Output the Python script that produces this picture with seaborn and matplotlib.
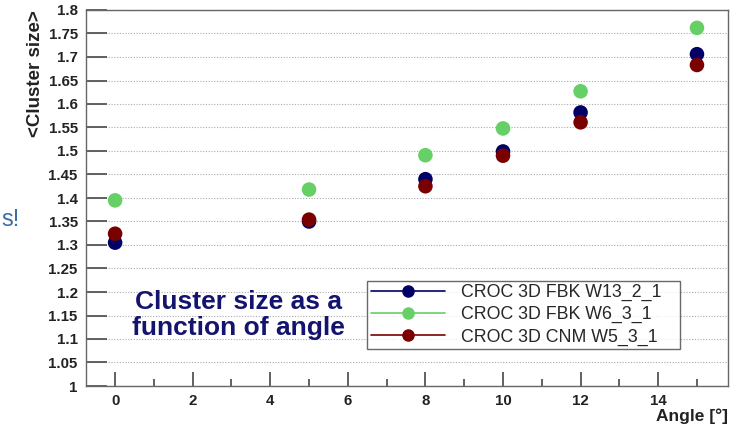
import numpy as np
import pandas as pd
import matplotlib
matplotlib.use("Agg")
import matplotlib.pyplot as plt
from matplotlib.lines import Line2D
from matplotlib.ticker import MultipleLocator, FuncFormatter
import seaborn as sns

angles = [0, 5, 8, 10, 12, 15]
fbk_w13 = [1.305, 1.350, 1.440, 1.499, 1.582, 1.706]
fbk_w6 = [1.395, 1.418, 1.491, 1.548, 1.627, 1.762]
cnm_w5 = [1.324, 1.354, 1.425, 1.490, 1.561, 1.683]
series_names = ["CROC 3D FBK W13_2_1", "CROC 3D FBK W6_3_1", "CROC 3D CNM W5_3_1"]
colors = ["#000066", "#66d066", "#7a0000"]

df = pd.DataFrame({
    "angle": angles * 3,
    "size": fbk_w13 + fbk_w6 + cnm_w5,
    "series": sum([[n] * len(angles) for n in series_names], []),
})

sns.set_style("white", {"xtick.bottom": True, "ytick.left": True})
plt.rcParams['font.family'] = ['Liberation Sans', 'DejaVu Sans']

fig = plt.figure(figsize=(7.43, 4.25), dpi=100)
ax = fig.add_axes([86/743, 1 - 386/425, (728-86)/743, (386-10)/425])

sns.scatterplot(data=df, x="angle", y="size", hue="series", palette=colors,
                hue_order=series_names, s=110, edgecolor="none", ax=ax,
                legend=False, zorder=3)

ax.set_xlim(-0.75, 15.8)
ax.set_ylim(1.0, 1.8)
ax.yaxis.set_major_locator(MultipleLocator(0.05))
ax.xaxis.set_major_locator(MultipleLocator(2))
ax.xaxis.set_minor_locator(MultipleLocator(1))
ax.yaxis.set_major_formatter(FuncFormatter(lambda v, p: "%g" % round(v, 2)))
ax.grid(axis="y", linestyle=(0, (1, 1.5)), color="#aaaaaa", linewidth=0.8)

for sp in ax.spines.values():
    sp.set_color("#666666")
    sp.set_linewidth(1.0)

ax.tick_params(axis="both", which="both", direction="in", left=True, bottom=True,
               right=False, top=False, color="#555555", width=1.3)
ax.tick_params(axis="y", which="major", length=15, labelsize=10.8, pad=6,
               labelcolor="#222222")
ax.tick_params(axis="x", which="major", length=10, labelsize=10.8, pad=6,
               labelcolor="#222222")
ax.tick_params(axis="x", which="minor", length=5)
for lab in ax.get_xticklabels() + ax.get_yticklabels():
    lab.set_fontweight("bold")

ax.set_xlabel("")
ax.set_ylabel("")
fig.text(35/743, 1 - 10/425, "<Cluster size>", rotation=90, ha="center", va="top",
         fontsize=13.5, fontweight="bold", color="#222222")
fig.text(728/743, 1 - 416/425, "Angle [°]", ha="right", va="center",
         fontsize=12.5, fontweight="bold", color="#222222")

ax.text(0.238, 0.189, "Cluster size as a\nfunction of angle", transform=ax.transAxes,
        ha="center", va="center", fontsize=19, fontweight="bold", color="#14146e",
        linespacing=1.15)

fig.text(1/743, 1 - 220/425, "s!", ha="left", va="center", fontsize=17,
         color="#3a6ea5")

handles = [Line2D([0], [0], color=c, marker="o", markersize=8, lw=1.2)
           for c in colors]
leg = ax.legend(handles, series_names, loc="lower left",
                bbox_to_anchor=(0.438, 0.098, 0.4875, 0.179), mode="expand",
                fontsize=12.8, frameon=True, fancybox=False, handlelength=4.2,
                borderpad=0.2, labelspacing=0.28, handletextpad=0.9,
                borderaxespad=0)
leg.get_frame().set_edgecolor("#444444")
leg.get_frame().set_linewidth(1.0)
leg.set_zorder(5)

fig.savefig("out.png", dpi=100)
